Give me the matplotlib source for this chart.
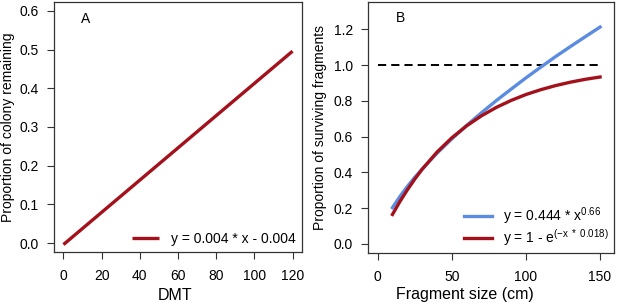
import matplotlib
matplotlib.use("Agg")
import matplotlib.pyplot as plt

plt.rcParams['font.family'] = ['Liberation Sans', 'DejaVu Sans']
plt.rcParams['mathtext.fontset'] = 'custom'
plt.rcParams['mathtext.rm'] = 'Liberation Sans'
plt.rcParams['mathtext.it'] = 'Liberation Sans'
plt.rcParams['mathtext.default'] = 'regular'

# Panel A data
dmt = [0, 120]
colony = [-0.004, 0.496]
a_xticks = [0, 20, 40, 60, 80, 100, 120]
a_yticks = [0.0, 0.1, 0.2, 0.3, 0.4, 0.5, 0.6]

# Panel B data
frag = [10, 15, 20, 25, 30, 40, 50, 60, 70, 80, 90, 100, 110, 120, 130, 140, 150]
surv_power = [0.203, 0.265, 0.321, 0.372, 0.419, 0.507, 0.587, 0.662, 0.733, 0.801,
              0.865, 0.928, 0.988, 1.047, 1.103, 1.158, 1.212]
surv_exp = [0.165, 0.237, 0.302, 0.362, 0.417, 0.513, 0.593, 0.660, 0.716, 0.763,
            0.802, 0.835, 0.862, 0.885, 0.904, 0.920, 0.933]
ref_x = [0, 150]
ref_y = [1.0, 1.0]
b_xticks = [0, 50, 100, 150]
b_yticks = [0.0, 0.2, 0.4, 0.6, 0.8, 1.0, 1.2]

RED = '#A3121C'
BLUE = '#5B8CE2'
FS = 10
FS_XLAB = 11.5
FS_YLAB = 10

fig = plt.figure(figsize=(6.17, 3.08), dpi=100)
W, H = 617, 308

def add_axes(l, r, t, b):
    return fig.add_axes([l / W, (H - b) / H, (r - l) / W, (b - t) / H])

def style(ax):
    for s in ax.spines.values():
        s.set_linewidth(0.9)
        s.set_color('#333333')
    ax.tick_params(direction='out', length=5, width=0.8, color='#333333',
                   labelsize=FS)
    ax.tick_params(axis='x', pad=7)
    ax.tick_params(axis='y', pad=6)

def labels(ax, xl, yl, xlab_px, ylab_px, ax_l, ax_r, ax_b, ax_t):
    ax.set_xlabel(xl, fontsize=FS_XLAB, va='center')
    ax.set_ylabel(yl, fontsize=FS_YLAB, va='center')
    ax.xaxis.set_label_coords((xlab_px - ax_l) / (ax_r - ax_l),
                              (ax_b - 295) / (ax_b - ax_t))
    ax.yaxis.set_label_coords((ylab_px - ax_l) / (ax_r - ax_l), 0.5)

A_L, A_R, A_T, A_B = 54.3, 301.7, 1.7, 252.3
axA = add_axes(A_L, A_R, A_T, A_B)
axA.plot(dmt, colony, color=RED, lw=2.4, solid_capstyle='butt',
         label='y = 0.004 * x - 0.004')
axA.set_xlim(-4.8, 124.8)
axA.set_ylim(-0.024, 0.624)
axA.set_xticks(a_xticks)
axA.set_yticks(a_yticks)
axA.set_yticklabels([f'{v:.1f}' for v in a_yticks])
labels(axA, 'DMT', 'Proportion of colony remaining', 175, 8.5,
       A_L, A_R, A_B, A_T)
axA.text(9, 0.578, 'A', fontsize=FS, va='center', ha='left')
style(axA)
axA.legend(loc='lower right', bbox_to_anchor=(1.0, 0.0), frameon=False,
           fontsize=FS, handlelength=1.95, handletextpad=0.85,
           borderaxespad=0.2, borderpad=0.25)

B_L, B_R, B_T, B_B = 368.3, 614, 2, 253.3
axB = add_axes(B_L, B_R, B_T, B_B)
axB.plot(ref_x, ref_y, color='black', lw=1.4, ls=(0, (4.2, 2.6)))
axB.plot(frag, surv_power, color=BLUE, lw=2.4,
         label=r'y = 0.444 * x$^{0.66}$')
axB.plot(frag, surv_exp, color=RED, lw=2.4,
         label=r'y = 1 - e$^{(\mathrm{-x\ *\ 0.018})}$')
axB.set_xlim(-6.3, 159.4)
axB.set_ylim(-0.052, 1.352)
axB.set_xticks(b_xticks)
axB.set_yticks(b_yticks)
axB.set_yticklabels([f'{v:.1f}' for v in b_yticks])
labels(axB, 'Fragment size (cm)', 'Proportion of surviving fragments', 465, 320,
       B_L, B_R, B_B, B_T)
axB.text(12, 1.26, 'B', fontsize=FS, va='center', ha='left')
style(axB)
axB.legend(loc='lower right', bbox_to_anchor=(1.0, 0.0), frameon=False,
           fontsize=FS, handlelength=1.95, handletextpad=0.85,
           borderaxespad=0.2, borderpad=0.15, labelspacing=0.05)

fig.savefig('out.png', dpi=100)
